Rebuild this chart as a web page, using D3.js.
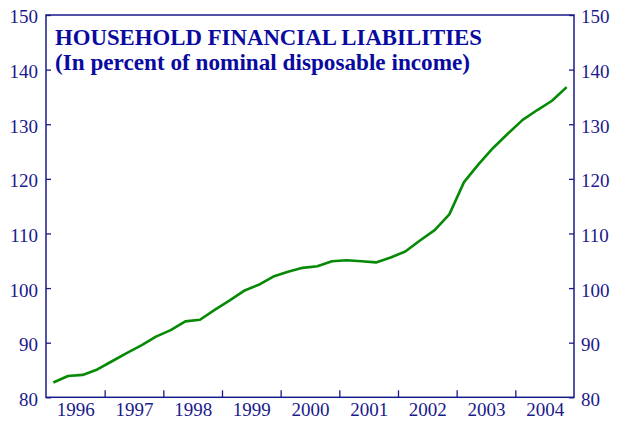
<!DOCTYPE html>
<html>
<head>
<meta charset="utf-8">
<script src="https://cdn.jsdelivr.net/npm/d3@7"></script>
<style>
  html, body { margin: 0; padding: 0; background: #fff; }
  svg { display: block; }
  text { font-family: "Liberation Serif", "Times New Roman", serif; }
</style>
</head>
<body>
<svg id="chart" width="621" height="421"></svg>
<script>
// Household financial liabilities, quarterly, in percent of nominal disposable income
const years = [1996, 1997, 1998, 1999, 2000, 2001, 2002, 2003, 2004];
const quarters = ["Q1", "Q2", "Q3", "Q4"];
const liabilities = [
  82.7, 83.9, 84.1, 85.1,      // 1996
  86.6, 88.1, 89.5, 91.1,      // 1997
  92.3, 93.9, 94.2, 96.0,      // 1998
  97.7, 99.5, 100.6, 102.1,    // 1999
  103.0, 103.7, 104.0, 104.9,  // 2000
  105.1, 104.9, 104.7, 105.6,  // 2001
  106.7, 108.7, 110.6, 113.5,  // 2002
  119.4, 122.7, 125.7, 128.3,  // 2003
  130.8, 132.6, 134.3, 136.8   // 2004
];
const yTicks = [80, 90, 100, 110, 120, 130, 140, 150];
const titleLines = [
  "HOUSEHOLD FINANCIAL LIABILITIES",
  "(In percent of nominal disposable income)"
];

const navy = "#1a1a8a";
const svg = d3.select("#chart");

const plot = { left: 46, right: 574, top: 15, bottom: 397.3 };

const x = d3.scaleLinear()
  .domain([years[0], years[years.length - 1] + 1])
  .range([plot.left, plot.right]);
const y = d3.scaleLinear()
  .domain([80, 150])
  .range([plot.bottom, plot.top]);

// quarterly points sit at the middle of each quarter
const series = liabilities.map((v, i) => ({
  t: years[0] + Math.floor(i / 4) + (quarters.indexOf(quarters[i % 4]) + 0.5) / 4,
  v
}));

// left axis
const gL = svg.append("g").attr("transform", `translate(${plot.left},0)`)
  .call(d3.axisLeft(y).tickValues(yTicks).tickSize(-5).tickPadding(8));
// right axis
const gR = svg.append("g").attr("transform", `translate(${plot.right},0)`)
  .call(d3.axisRight(y).tickValues(yTicks).tickSize(-5).tickPadding(7));
// bottom tick marks at year boundaries
const gB = svg.append("g").attr("transform", `translate(0,${plot.bottom})`)
  .call(d3.axisBottom(x).tickValues(years.slice(1)).tickSize(-7).tickFormat(""));
// year labels centred in each year
const gYears = svg.append("g").attr("transform", `translate(0,${plot.bottom})`)
  .call(d3.axisBottom(x).tickValues(years.map(d => d + 0.5)).tickSize(0).tickPadding(5)
    .tickFormat(d => String(Math.floor(d))));

[gL, gR, gB, gYears].forEach(g => {
  g.select(".domain").remove();
  g.selectAll("line").attr("stroke", navy).attr("stroke-width", 1.3);
  g.selectAll("text").attr("fill", navy).style("font-size", "19px")
    .style("font-family", "'Liberation Serif', serif");
});
gL.selectAll("text").attr("dy", "0.42em");
gR.selectAll("text").attr("dy", "0.42em");

// frame
svg.append("rect")
  .attr("x", plot.left).attr("y", plot.top)
  .attr("width", plot.right - plot.left).attr("height", plot.bottom - plot.top)
  .attr("fill", "none").attr("stroke", navy).attr("stroke-width", 1.5);

// title
const title = svg.append("g").attr("fill", "#0a0aa0")
  .style("font-weight", "bold").style("font-size", "23.5px");
title.append("text").attr("x", 55).attr("y", 45).text(titleLines[0])
  .attr("textLength", 427).attr("lengthAdjust", "spacingAndGlyphs");
title.append("text").attr("x", 55).attr("y", 69.5).text(titleLines[1])
  .attr("textLength", 415).attr("lengthAdjust", "spacingAndGlyphs");

// data line
svg.append("path")
  .datum(series)
  .attr("fill", "none")
  .attr("stroke", "#068a06")
  .attr("stroke-width", 2.6)
  .attr("stroke-linejoin", "round")
  .attr("d", d3.line().x(d => x(d.t)).y(d => y(d.v)));
</script>
</body>
</html>
